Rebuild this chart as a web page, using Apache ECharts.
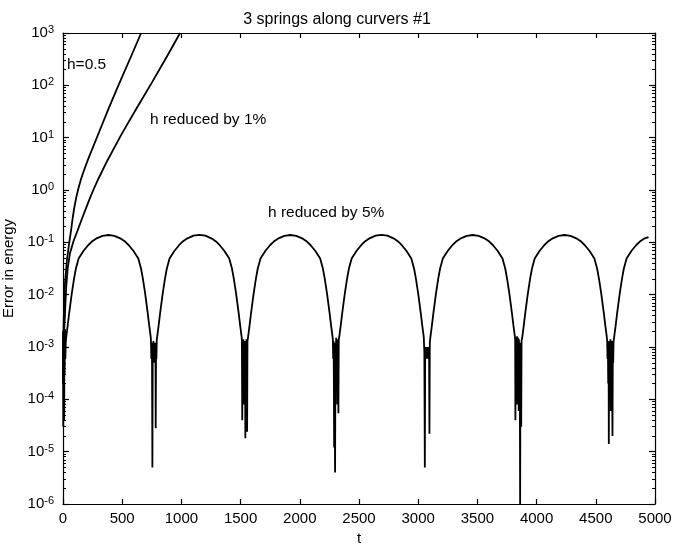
<!DOCTYPE html>
<html>
<head>
<meta charset="utf-8">
<script src="https://cdn.jsdelivr.net/npm/echarts@6.0.0/dist/echarts.min.js"></script>
<style>
    html, body { margin: 0; padding: 0; background: #fff; }
    #main { width: 674px; height: 545px; }
</style>
</head>
<body>
<div id="main"></div>
<script>
// h = 0.5 : blows up
var t05 = [0, 3, 6, 14, 33, 50, 68, 82, 96, 112, 130, 150, 170, 214, 300, 384, 468, 580, 660];
var e05 = [2e-4, 1.5e-3, 3.2e-3, 0.014, 0.045, 0.089, 0.17, 0.295, 0.468, 0.724, 1.07, 1.55, 2.14, 3.98, 12, 35.5, 100, 380, 1000];

// h reduced by 1%
var t01 = [0, 5, 14, 27, 40, 59, 90, 124, 160, 192, 225, 256, 300, 374, 495, 623, 753, 885, 989];
var e01 = [2e-4, 1.2e-3, 3.2e-3, 0.014, 0.032, 0.062, 0.107, 0.17, 0.282, 0.437, 0.676, 1, 1.66, 3.63, 11.7, 37, 115, 380, 1000];

// h reduced by 5% : bounded arches, noisy dips between them
var t5 = [
    0, 2, 4, 6, 8, 10, 12, 14, 17, 20, 23,
    27, 39, 52, 74, 93, 109, 132, 174, 214, 244, 279, 334, 384, 434, 489, 524, 554, 594, 636, 659, 675, 694, 716, 729, 741,
    743, 746, 749, 752, 755, 758, 761, 764, 767, 770, 773, 776, 779, 781, 783, 786, 789, 792,
    795, 807, 820, 842, 861, 877, 900, 942, 982, 1012, 1047, 1102, 1152, 1202, 1257, 1292, 1322, 1362, 1404, 1427, 1443, 1462, 1484, 1497, 1509,
    1511, 1514, 1517, 1520, 1523, 1526, 1529, 1532, 1535, 1538, 1540, 1543, 1546, 1549, 1552, 1555, 1558,
    1563, 1575, 1588, 1610, 1629, 1645, 1668, 1710, 1750, 1780, 1815, 1870, 1920, 1970, 2025, 2060, 2090, 2130, 2172, 2195, 2211, 2230, 2252, 2265, 2277,
    2279, 2282, 2285, 2288, 2290, 2292, 2295, 2298, 2301, 2304, 2307, 2310, 2313, 2316, 2319, 2322, 2324, 2326, 2329,
    2333, 2345, 2358, 2380, 2399, 2415, 2438, 2480, 2520, 2550, 2585, 2640, 2690, 2740, 2795, 2830, 2860, 2900, 2942, 2965, 2981, 3000, 3022, 3035, 3047,
    3049, 3052, 3056, 3059, 3062, 3065, 3068, 3071, 3074, 3077, 3080, 3083, 3086, 3089, 3092, 3095, 3098,
    3103, 3115, 3128, 3150, 3169, 3185, 3208, 3250, 3290, 3320, 3355, 3410, 3460, 3510, 3565, 3600, 3630, 3670, 3712, 3735, 3751, 3770, 3792, 3805, 3817,
    3819, 3821, 3823, 3825, 3827, 3829, 3831, 3833, 3835, 3837, 3839, 3841, 3843, 3845, 3847, 3849, 3851, 3853, 3855, 3858, 3861, 3864, 3867, 3870, 3873,
    3879, 3891, 3904, 3926, 3945, 3961, 3984, 4026, 4066, 4096, 4131, 4186, 4236, 4286, 4341, 4376, 4406, 4446, 4488, 4511, 4527, 4546, 4568, 4581, 4593,
    4596, 4599, 4602, 4605, 4608, 4610, 4612, 4615, 4618, 4621, 4624, 4627, 4630, 4633, 4636, 4638, 4641, 4644, 4647, 4650,
    4655, 4667, 4680, 4702, 4721, 4737, 4760, 4802, 4842, 4872, 4907, 4945
];
var e5 = [
    2e-3, 3e-5, 1.5e-3, 1e-4, 2e-3, 4e-5, 1.8e-3, 3e-4, 2.2e-3, 6e-4, 1.2e-3,
    0.00155, 0.0025, 0.00437, 0.0105, 0.02, 0.0316, 0.049, 0.069, 0.089, 0.1035, 0.1175, 0.133, 0.138, 0.133, 0.1175, 0.1035, 0.089, 0.069, 0.049, 0.0316, 0.02, 0.0105, 0.00437, 0.0025, 0.00155,
    1.3e-3, 6e-4, 1.2e-3, 5e-4, 5e-6, 1.1e-3, 5.5e-4, 1.3e-3, 6e-4, 1.2e-3, 5e-4, 1.1e-3, 6e-4, 1.2e-3, 2.8e-5, 1.1e-3, 6e-4, 1.4e-3,
    0.00155, 0.0025, 0.00437, 0.0105, 0.02, 0.0316, 0.049, 0.069, 0.089, 0.104, 0.118, 0.134, 0.139, 0.134, 0.118, 0.104, 0.089, 0.069, 0.049, 0.0316, 0.02, 0.0105, 0.00437, 0.0025, 0.00155,
    1.3e-3, 4e-5, 1.2e-3, 2e-4, 1.4e-3, 8e-5, 1.1e-3, 1.5e-4, 1.3e-3, 6e-4, 1.8e-5, 1.2e-3, 1.2e-4, 1.4e-3, 3e-4, 2.4e-5, 1.3e-3,
    0.00155, 0.0025, 0.00437, 0.0105, 0.02, 0.0316, 0.049, 0.069, 0.089, 0.1035, 0.1175, 0.133, 0.138, 0.133, 0.1175, 0.1035, 0.089, 0.069, 0.049, 0.0316, 0.02, 0.0105, 0.00437, 0.0025, 0.00155,
    1.4e-3, 6e-4, 1.3e-3, 2e-4, 1.2e-5, 1.2e-3, 1e-4, 4e-6, 1.1e-3, 1.5e-4, 1.5e-3, 2e-4, 1.2e-3, 8e-5, 1.4e-3, 3e-4, 1.1e-3, 5.4e-5, 1.4e-3,
    0.00155, 0.0025, 0.00437, 0.0105, 0.02, 0.0316, 0.049, 0.069, 0.089, 0.104, 0.118, 0.134, 0.139, 0.134, 0.118, 0.104, 0.089, 0.069, 0.049, 0.0316, 0.02, 0.0105, 0.00437, 0.0025, 0.00155,
    1.2e-3, 8e-4, 5e-6, 9e-4, 6e-4, 1.0e-3, 7e-4, 9e-4, 6e-4, 1.0e-3, 7e-4, 9e-4, 6e-4, 1.0e-3, 7e-4, 2.2e-5, 1.2e-3,
    0.00155, 0.0025, 0.00437, 0.0105, 0.02, 0.0316, 0.049, 0.069, 0.089, 0.1035, 0.1175, 0.133, 0.138, 0.133, 0.1175, 0.1035, 0.089, 0.069, 0.049, 0.0316, 0.02, 0.0105, 0.00437, 0.0025, 0.00155,
    1.4e-3, 4e-5, 1.2e-3, 2e-4, 1.5e-3, 1e-4, 1.2e-3, 3e-4, 1.6e-3, 8e-5, 1.3e-3, 2e-4, 1.5e-3, 1.5e-4, 1.2e-3, 6e-5, 1.4e-3, 2.5e-4, 1.1e-3, 4e-4, 1e-6, 1.2e-3, 5e-4, 3e-5, 1.3e-3,
    0.00155, 0.0025, 0.00437, 0.0105, 0.02, 0.0316, 0.049, 0.069, 0.089, 0.1035, 0.1175, 0.133, 0.138, 0.133, 0.1175, 0.1035, 0.089, 0.069, 0.049, 0.0316, 0.02, 0.0105, 0.00437, 0.0025, 0.00155,
    1.3e-3, 6e-4, 1.2e-3, 2e-4, 1.1e-3, 1.4e-5, 1.3e-3, 1e-4, 1.2e-3, 3e-4, 1.4e-3, 6e-5, 1.1e-3, 2e-4, 1.3e-3, 1.5e-4, 2e-5, 1.2e-3, 5e-4, 1.3e-3,
    0.00155, 0.0025, 0.00437, 0.0105, 0.02, 0.0316, 0.049, 0.069, 0.089, 0.1035, 0.1175, 0.126
];

var xMin = 0, xMax = 5000, xStep = 500;
var yMinExp = -6, yMaxExp = 3;

var FONT = '"Liberation Sans", Arial, Helvetica, sans-serif';

function zip(t, e) {
    return t.map(function(x, i) {
        return [x, e[i]];
    });
}

// minor ticks at 2..9 x 10^n, placed on a linear axis of the exponent
var minorExp = [];
for (var p = yMinExp; p < yMaxExp; p++) {
    for (var k = 2; k < 10; k++) {
        minorExp.push(p + Math.log(k) / Math.LN10);
    }
}

var axisLine = { show: true, onZero: false, lineStyle: { color: '#000', width: 1.2 } };

function xAxis(pos, withLabels) {
    return {
        type: 'value',
        position: pos,
        min: xMin,
        max: xMax,
        interval: xStep,
        axisLine: axisLine,
        axisTick: { inside: true, length: 5, lineStyle: { color: '#000', width: 1.2 } },
        axisLabel: {
            show: withLabels,
            margin: 7,
            color: '#000',
            fontSize: 15,
            fontFamily: FONT,
            formatter: function(v) { return String(v); }
        },
        splitLine: { show: false },
        name: withLabels ? 't' : '',
        nameLocation: 'middle',
        nameGap: 16,
        nameTextStyle: { color: '#000', fontSize: 15, fontFamily: FONT }
    };
}

function yAxis(pos, withLabels) {
    var ax = {
        type: 'log',
        logBase: 10,
        position: pos,
        min: Math.pow(10, yMinExp),
        max: Math.pow(10, yMaxExp),
        splitNumber: 9,
        axisLine: axisLine,
        axisTick: { inside: true, length: 6, lineStyle: { color: '#000', width: 1.2 } },
        axisLabel: { show: false },
        splitLine: { show: false }
    };
    if (withLabels) {
        ax.axisLabel = {
            show: true,
            margin: 9,
            color: '#000',
            fontFamily: FONT,
            formatter: function(v) {
                var ex = Math.round(Math.log(v) / Math.LN10);
                return '{b|10}{s|' + ex + '}';
            },
            rich: {
                b: { fontSize: 15, fontFamily: FONT, color: '#000', lineHeight: 17 },
                s: { fontSize: 11, fontFamily: FONT, color: '#000', verticalAlign: 'top' }
            }
        };
        ax.name = 'Error in energy';
        ax.nameLocation = 'middle';
        ax.nameGap = 29;
        ax.nameTextStyle = { color: '#000', fontSize: 15, fontFamily: FONT };
    }
    return ax;
}

function minorAxis(pos) {
    return {
        type: 'value',
        position: pos,
        min: yMinExp,
        max: yMaxExp,
        axisLine: { show: false, onZero: false },
        axisTick: {
            show: true,
            inside: true,
            length: 3,
            customValues: minorExp,
            lineStyle: { color: '#000', width: 1 }
        },
        axisLabel: { show: false },
        splitLine: { show: false }
    };
}

function lineSeries(name, t, e) {
    return {
        name: name,
        type: 'line',
        xAxisIndex: 0,
        yAxisIndex: 0,
        data: zip(t, e),
        showSymbol: false,
        symbol: 'none',
        clip: true,
        lineStyle: { color: '#000', width: 1.8 },
        animation: false
    };
}

var chart = echarts.init(document.getElementById('main'), null, { renderer: 'canvas' });

var options = {
    backgroundColor: '#fff',
    animation: false,
    title: {
        text: '3 springs along curvers #1',
        left: 'center',
        top: 7,
        textStyle: { color: '#000', fontSize: 16, fontWeight: 'normal', fontFamily: FONT }
    },
    grid: {
        left: 63,
        right: 19,
        top: 33,
        bottom: 41,
        outerBoundsMode: 'none'
    },
    xAxis: [xAxis('bottom', true), xAxis('top', false)],
    yAxis: [
        yAxis('left', true),
        yAxis('right', false),
        minorAxis('left'),
        minorAxis('right')
    ],
    graphic: [
        { type: 'text', x: 67, y: 65, style: { text: 'h=0.5', fill: '#000', font: '15.5px ' + FONT, verticalAlign: 'middle' } },
        { type: 'text', x: 150, y: 120, style: { text: 'h reduced by 1%', fill: '#000', font: '15.5px ' + FONT, verticalAlign: 'middle' } },
        { type: 'text', x: 268, y: 213, style: { text: 'h reduced by 5%', fill: '#000', font: '15.5px ' + FONT, verticalAlign: 'middle' } }
    ],
    series: [
        lineSeries('h=0.5', t05, e05),
        lineSeries('h reduced by 1%', t01, e01),
        lineSeries('h reduced by 5%', t5, e5)
    ]
};

chart.setOption(options);
</script>
</body>
</html>
